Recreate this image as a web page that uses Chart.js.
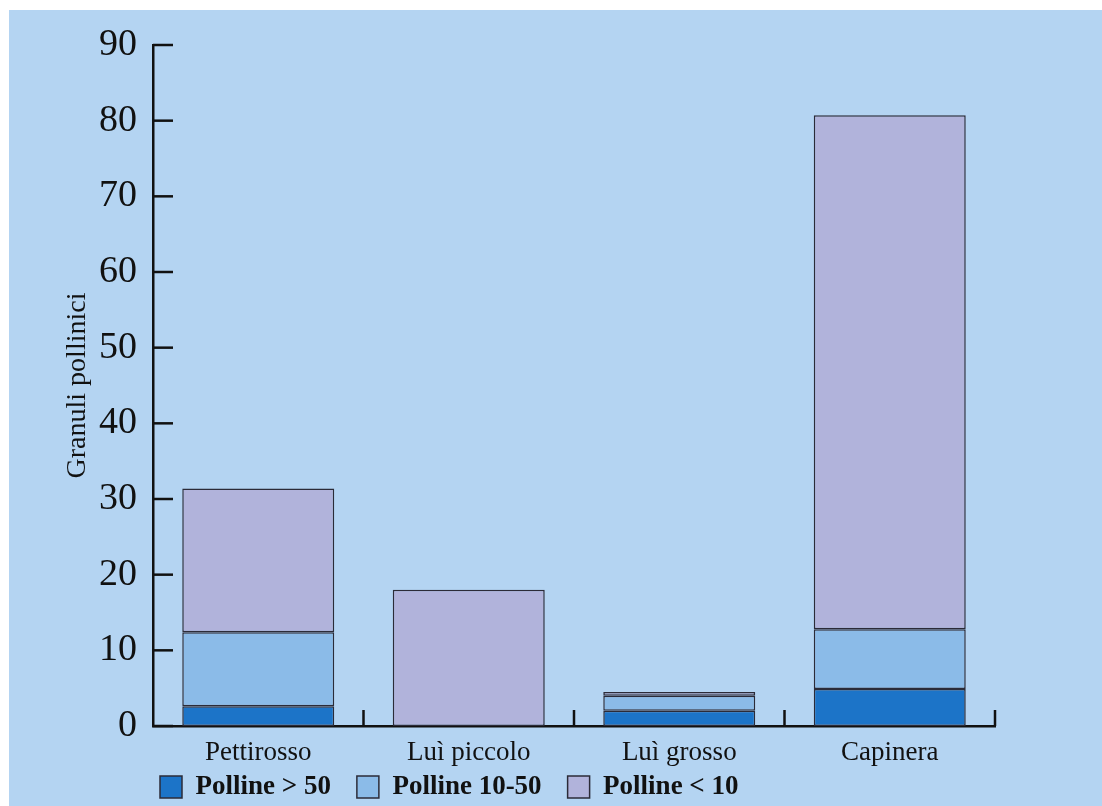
<!DOCTYPE html>
<html>
<head>
<meta charset="utf-8">
<script src="https://cdn.jsdelivr.net/npm/chart.js@4.4.0/dist/chart.umd.min.js"></script>
<style>
  html, body { margin: 0; padding: 0; background: #fff; }
  #wrap { position: absolute; left: 9px; top: 10px; width: 1093px; height: 796px; background: #b4d4f2; }
</style>
</head>
<body>
<div id="wrap"><canvas id="myChart"></canvas></div>
<script>
const birds = ['Pettirosso', 'Luì piccolo', 'Luì grosso', 'Capinera'];
const pollineOver50 = [2.6, 0, 2.0, 4.9];
const polline10to50 = [9.8, 0, 2.0, 7.9];
const pollineUnder10 = [19.0, 18.0, 0.5, 67.9];
const yTicks = [0, 10, 20, 30, 40, 50, 60, 70, 80, 90];

const serif = '"Liberation Serif", "DejaVu Serif", serif';

// ticks drawn inward, like the printed figure
const inwardTicks = {
    id: 'inwardTicks',
    afterLayout(chart) {
        chart.legend.left = 125;
        chart.legend.top = 737.5;
    },
    afterDraw(chart) {
        const {ctx, chartArea, scales: {x, y}} = chart;
        ctx.save();
        ctx.strokeStyle = '#111';
        ctx.lineWidth = 2.5;
        y.ticks.forEach(t => {
            const py = y.getPixelForValue(t.value);
            ctx.beginPath();
            ctx.moveTo(chartArea.left, py);
            ctx.lineTo(chartArea.left + 20, py);
            ctx.stroke();
        });
        for (let i = 0; i < birds.length; i++) {
            const px = i < birds.length - 1
                ? (x.getPixelForValue(i) + x.getPixelForValue(i + 1)) / 2
                : chartArea.right;
            ctx.beginPath();
            ctx.moveTo(px, chartArea.bottom);
            ctx.lineTo(px, chartArea.bottom - 16);
            ctx.stroke();
        }
        ctx.restore();
    }
};

const barStyle = {
    borderColor: '#2b2b38',
    borderWidth: 1.5,
    borderSkipped: false,
    barPercentage: 0.722,
    categoryPercentage: 1
};

const ctx = document.getElementById('myChart').getContext('2d');
new Chart(ctx, {
    type: 'bar',
    data: {
        labels: birds,
        datasets: [
            Object.assign({label: 'Polline > 50', data: pollineOver50, backgroundColor: '#1c74c8'}, barStyle),
            Object.assign({label: 'Polline 10-50', data: polline10to50, backgroundColor: '#8bbbe8'}, barStyle),
            Object.assign({label: 'Polline < 10', data: pollineUnder10, backgroundColor: '#b1b3db'}, barStyle)
        ]
    },
    options: {
        responsive: true,
        maintainAspectRatio: false,
        animation: false,
        layout: {padding: {top: 35, right: 107, bottom: 0, left: 0}},
        plugins: {
            tooltip: {enabled: false},
            legend: {
                position: 'bottom',
                align: 'start',
                maxHeight: 20,
                labels: {
                    boxWidth: 22,
                    boxHeight: 22,
                    padding: 26,
                    color: '#111',
                    font: {family: serif, size: 27, weight: 'bold'}
                }
            }
        },
        scales: {
            x: {
                stacked: true,
                afterFit: scale => { scale.height = 60; },
                grid: {display: false},
                border: {display: true, color: '#111', width: 2.5},
                ticks: {color: '#111', padding: 3, font: {family: serif, size: 27}}
            },
            y: {
                stacked: true,
                min: 0,
                max: 90,
                afterFit: scale => { scale.width = 144; },
                afterBuildTicks: scale => { scale.ticks = yTicks.map(v => ({value: v})); },
                grid: {display: false},
                border: {display: true, color: '#111', width: 2.5},
                ticks: {color: '#111', padding: 8, font: {family: serif, size: 38}},
                title: {
                    display: true,
                    text: 'Granuli pollinici',
                    color: '#111',
                    font: {family: serif, size: 28},
                    padding: {top: 52, bottom: 0}
                }
            }
        }
    },
    plugins: [inwardTicks]
});
</script>
</body>
</html>
